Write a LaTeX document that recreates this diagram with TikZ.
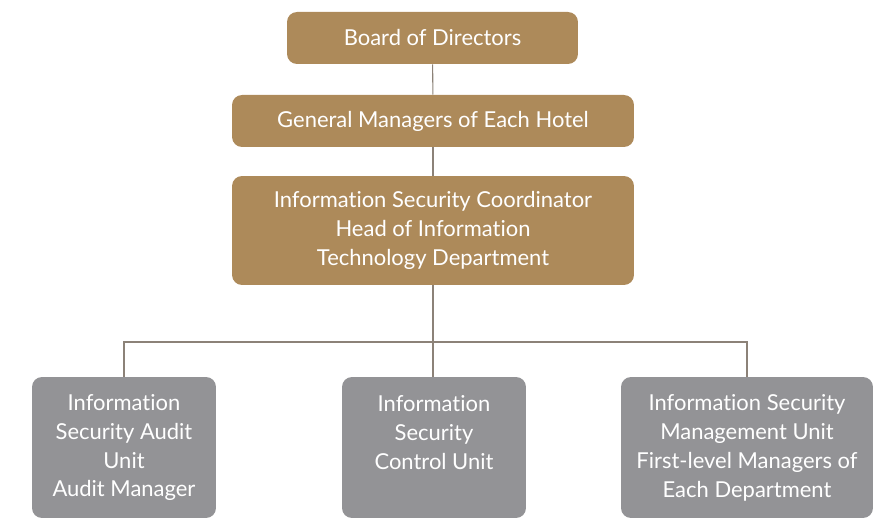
\documentclass[tikz,border=0pt]{standalone}
\usepackage{fontspec}
\setmainfont[Ligatures=NoCommon]{Lato}
\usetikzlibrary{calc}
\definecolor{goldbox}{HTML}{AD8A5A}
\definecolor{greybox}{HTML}{939396}
\definecolor{linkline}{HTML}{8C8278}

\begin{document}
\begin{tikzpicture}[x=0.02cm, y=-0.02cm,
		topbox/.style={fill=goldbox, rounded corners=0.2cm, text=white, align=center, inner sep=0pt, font=\fontsize{12.5}{16.5}\selectfont},
		unitbox/.style={fill=greybox, rounded corners=0.2cm, text=white, align=center, inner sep=0pt, minimum height=2.82cm, font=\fontsize{12.5}{16.5}\selectfont},
		link/.style={draw=linkline, line width=0.6pt}]
			%%%%% START %%%%%
			
			\useasboundingbox (0, 0) rectangle (874, 519);
			\clip (0, 0) rectangle (874, 519);
			
			\node[topbox, minimum width=5.82cm, minimum height=1.04cm] (board) at (432.5, 38) {Board of Directors};
			\node[topbox, minimum width=8.04cm, minimum height=1.04cm] (gm) at (433, 121) {General Managers of Each Hotel};
			\node[topbox, minimum width=8.04cm, minimum height=2.18cm] (coord) at (433, 230.5) {Information Security Coordinator\\Head of Information\\Technology Department};
			
			\node[unitbox, minimum width=3.68cm] (audit) at (124, 447.5) {Information\\Security Audit\\Unit\\Audit Manager};
			\node[unitbox, minimum width=3.68cm] (control) at (434, 447.5) {Information\\Security\\Control Unit\\\phantom{U}};
			\node[unitbox, minimum width=5.04cm] (mgmt) at (747, 447.5) {Information Security\\Management Unit\\First-level Managers of\\Each Department};
			
			\coordinate (bar) at (433, 342);
			
			\draw[link] (board) -- (gm);
			\draw[link] (gm) -- (coord);
			\draw[link] (coord.south) -- (coord.south |- control.north);
			\draw[link] (audit.north) |- (bar) -| (mgmt.north);
			
			%%%%% END %%%%%
		\end{tikzpicture}
\end{document}
